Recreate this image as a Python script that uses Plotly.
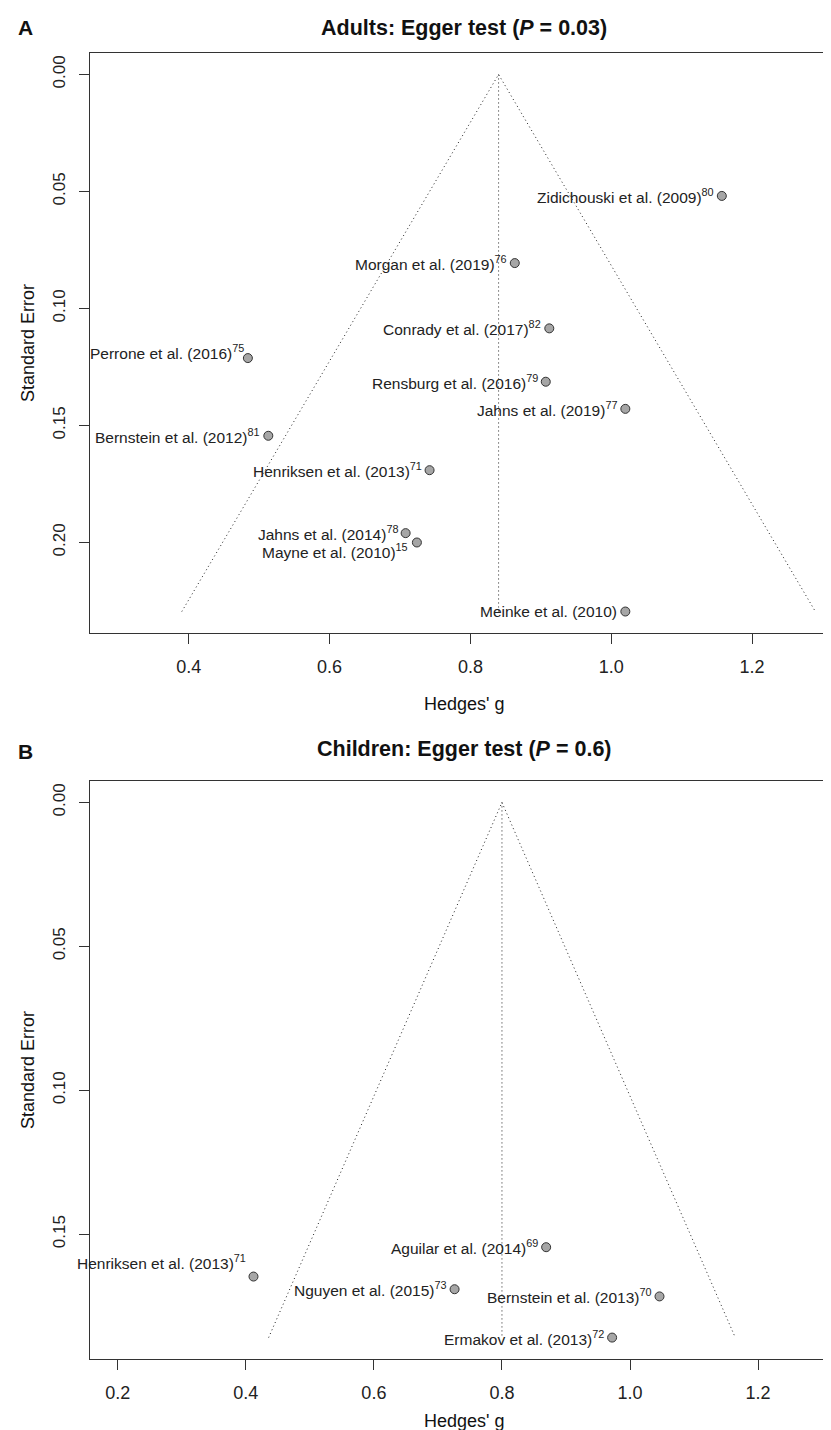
import plotly.graph_objects as go

# ---------------- data ----------------
adult_study = ["Zidichouski et al. (2009)", "Morgan et al. (2019)", "Conrady et al. (2017)",
               "Perrone et al. (2016)", "Rensburg et al. (2016)", "Jahns et al. (2019)",
               "Bernstein et al. (2012)", "Henriksen et al. (2013)", "Jahns et al. (2014)",
               "Mayne et al. (2010)", "Meinke et al. (2010)"]
adult_ref = ["80", "76", "82", "75", "79", "77", "81", "71", "78", "15", ""]
adult_g = [1.157, 0.863, 0.912, 0.484, 0.907, 1.020, 0.513, 0.742, 0.708, 0.724, 1.020]
adult_se = [0.0519, 0.0806, 0.1085, 0.1212, 0.1313, 0.1429, 0.1544, 0.1691, 0.1960, 0.2000, 0.2295]
adult_pooled = 0.84

child_study = ["Aguilar et al. (2014)", "Henriksen et al. (2013)", "Nguyen et al. (2015)",
               "Bernstein et al. (2013)", "Ermakov et al. (2013)"]
child_ref = ["69", "71", "73", "70", "72"]
child_g = [0.869, 0.412, 0.726, 1.046, 0.972]
child_se = [0.1545, 0.1647, 0.1691, 0.1716, 0.1859]
child_pooled = 0.80

adult_xticks = [0.4, 0.6, 0.8, 1.0, 1.2]
adult_yticks = [0.00, 0.05, 0.10, 0.15, 0.20]
child_xticks = [0.2, 0.4, 0.6, 0.8, 1.0, 1.2]
child_yticks = [0.00, 0.05, 0.10, 0.15]

# label offsets (style): (xshift px, yshift px)
adult_shift = {"Perrone et al. (2016)": (-3, 6), "Mayne et al. (2010)": (-8, -9)}
child_shift = {"Henriksen et al. (2013)": (-6, 15)}

FONT = "Liberation Sans, Arial, Helvetica, sans-serif"
W, H = 831, 1430
LINEC = "#333333"

fig = go.Figure()


def add_panel(fig, xa, ya, study, ref, g, se, pooled, shifts):
    semax = max(se)
    z = 1.96
    fig.add_trace(go.Scatter(
        x=[pooled - z * semax, pooled, pooled + z * semax], y=[semax, 0, semax],
        mode="lines", line=dict(color="#222222", width=1, dash="1px,3px"),
        xaxis=xa, yaxis=ya, hoverinfo="skip", showlegend=False))
    fig.add_trace(go.Scatter(
        x=[pooled, pooled], y=[0, semax],
        mode="lines", line=dict(color="#222222", width=1, dash="1px,3px"),
        xaxis=xa, yaxis=ya, hoverinfo="skip", showlegend=False))
    fig.add_trace(go.Scatter(
        x=g, y=se, mode="markers",
        marker=dict(size=9, color="#a6a6a6", line=dict(color="#333333", width=1)),
        xaxis=xa, yaxis=ya, showlegend=False))
    for s, r, gx, sy in zip(study, ref, g, se):
        txt = s + (f"<sup>{r}</sup>" if r else "")
        dx, dy = shifts.get(s, (-7, 0))
        fig.add_annotation(x=gx, y=sy, xref=xa, yref=ya,
                           text=txt, showarrow=False, xanchor="right", yanchor="middle",
                           xshift=dx, yshift=dy, borderpad=0,
                           font=dict(family=FONT, size=15.5, color="#222222"))
    return semax


sa = add_panel(fig, "x", "y", adult_study, adult_ref, adult_g, adult_se, adult_pooled, adult_shift)
sc = add_panel(fig, "x2", "y2", child_study, child_ref, child_g, child_se, child_pooled, child_shift)

common_x = dict(showline=True, linecolor=LINEC, linewidth=1, mirror=True,
                ticks="outside", ticklen=10, tickcolor=LINEC, tickwidth=1,
                showgrid=False, zeroline=False, tickformat=".1f",
                tickfont=dict(family=FONT, size=18, color="#222222"),
                ticklabelstandoff=7)
common_y = dict(showline=True, linecolor=LINEC, linewidth=1, mirror=False,
                ticks="outside", ticklen=10, tickcolor=LINEC, tickwidth=1,
                showgrid=False, zeroline=False, tickformat=".2f", tickangle=-90,
                tickfont=dict(family=FONT, size=17, color="#222222"),
                ticklabelstandoff=7)

xl = 82 / W
fig.update_layout(
    width=W, height=H, margin=dict(l=0, r=0, t=0, b=0),
    paper_bgcolor="white", plot_bgcolor="white", showlegend=False,
    xaxis=dict(domain=[xl, 1], range=[0.2598, 1.3234], tickvals=adult_xticks,
               anchor="y", **common_x),
    yaxis=dict(domain=[1 - 625 / H, 1 - 45 / H], range=[1.04 * sa, -0.04 * sa],
               tickvals=adult_yticks, anchor="x", **common_y),
    xaxis2=dict(domain=[xl, 1], range=[0.1567, 1.3263], tickvals=child_xticks,
                anchor="y2", **common_x),
    yaxis2=dict(domain=[1 - 1351 / H, 1 - 773 / H], range=[1.04 * sc, -0.04 * sc],
                tickvals=child_yticks, anchor="x2", **common_y),
)


def paper_ann(text, x, y, size, angle=0, xanchor="center"):
    fig.add_annotation(x=x / W, y=1 - y / H, xref="paper", yref="paper", text=text,
                       showarrow=False, xanchor=xanchor, yanchor="middle", textangle=angle,
                       font=dict(family=FONT, size=size, color="#111111"))


paper_ann("<b>A</b>", 8, 20, 21, xanchor="left")
paper_ann("<b>Adults: Egger test (<i>P</i> = 0.03)</b>", 456, 20, 21.5)
paper_ann("Hedges' g", 456, 696, 18)
paper_ann("Standard Error", 20, 335, 18, angle=-90)

paper_ann("<b>B</b>", 8, 743, 21, xanchor="left")
paper_ann("<b>Children: Egger test (<i>P</i> = 0.6)</b>", 456, 741, 21.5)
paper_ann("Hedges' g", 456, 1413, 18)
paper_ann("Standard Error", 20, 1062, 18, angle=-90)

fig.write_html("out.html")
